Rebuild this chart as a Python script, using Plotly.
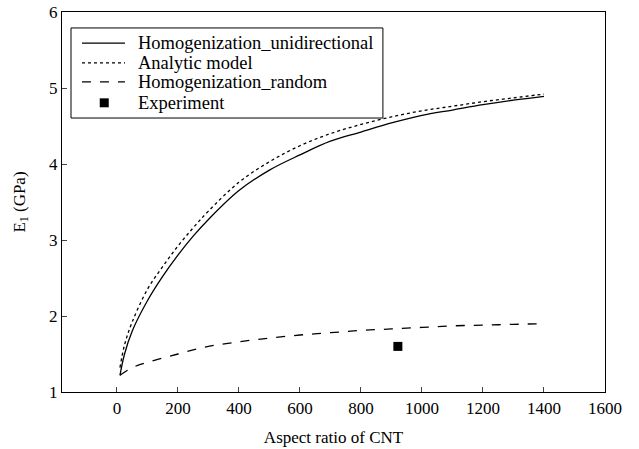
import plotly.graph_objects as go

x_uni = [10, 25, 50, 100, 150, 200, 250, 300, 400, 500, 600, 700, 800, 900, 1000, 1100, 1200, 1300, 1400]
y_uni = [1.22, 1.5, 1.8, 2.2, 2.52, 2.8, 3.05, 3.27, 3.65, 3.92, 4.12, 4.3, 4.42, 4.54, 4.64, 4.71, 4.78, 4.84, 4.89]

x_ana = [10, 25, 50, 100, 150, 200, 250, 300, 400, 500, 600, 700, 800, 900, 1000, 1100, 1200, 1300, 1400]
y_ana = [1.32, 1.62, 1.92, 2.35, 2.65, 2.92, 3.16, 3.38, 3.76, 4.03, 4.24, 4.4, 4.52, 4.62, 4.7, 4.76, 4.82, 4.87, 4.92]

x_rnd = [10, 50, 100, 200, 300, 400, 500, 600, 700, 800, 900, 1000, 1100, 1200, 1300, 1400]
y_rnd = [1.22, 1.32, 1.39, 1.5, 1.6, 1.66, 1.71, 1.75, 1.78, 1.81, 1.83, 1.85, 1.87, 1.88, 1.89, 1.9]

x_exp = [921]
y_exp = [1.6]

x_ticks = [0, 200, 400, 600, 800, 1000, 1200, 1400, 1600]
y_ticks = [1, 2, 3, 4, 5, 6]

series_names = ["Homogenization_unidirectional", "Analytic model", "Homogenization_random", "Experiment"]

FONT = "Liberation Serif"
LW = 1.3

fig = go.Figure()
fig.add_trace(go.Scatter(x=x_uni, y=y_uni, mode="lines", name=series_names[0],
                         line=dict(color="black", width=LW, shape="spline")))
fig.add_trace(go.Scatter(x=x_ana, y=y_ana, mode="lines", name=series_names[1],
                         line=dict(color="black", width=LW, dash="dot", shape="spline")))
fig.add_trace(go.Scatter(x=x_rnd, y=y_rnd, mode="lines", name=series_names[2],
                         line=dict(color="black", width=LW, dash="dash", shape="spline")))
fig.add_trace(go.Scatter(x=x_exp, y=y_exp, mode="markers", name=series_names[3],
                         marker=dict(symbol="square", color="black", size=9)))

# Custom legend (box, samples, texts) in paper coordinates
shapes = [dict(type="rect", xref="paper", yref="paper", x0=0.0166, x1=0.591, y0=0.721, y1=0.958,
               line=dict(color="black", width=1), fillcolor="white", layer="above")]
row_y = [0.918, 0.866, 0.816, 0.761]
dashes = ["solid", "dot", "dash"]
for ry, d in zip(row_y[:3], dashes):
    shapes.append(dict(type="line", xref="paper", yref="paper", x0=0.0368, x1=0.116, y0=ry, y1=ry,
                       line=dict(color="black", width=LW, dash=d), layer="above"))
shapes.append(dict(type="rect", xref="paper", yref="paper", x0=0.0695, x1=0.0861,
                   y0=row_y[3] - 0.0118, y1=row_y[3] + 0.0118,
                   line=dict(color="black", width=0), fillcolor="black", layer="above"))
annotations = [dict(text=n, xref="paper", yref="paper", x=0.136, y=ry, xanchor="left", yanchor="middle",
                    showarrow=False, font=dict(family=FONT, size=18.5, color="black"))
               for n, ry in zip(series_names, row_y)]

fig.update_layout(
    width=639, height=449,
    margin=dict(l=62, r=34, t=12, b=57),
    paper_bgcolor="white", plot_bgcolor="white",
    font=dict(family=FONT, size=17, color="black"),
    showlegend=False,
    shapes=shapes,
    annotations=annotations,
    xaxis=dict(range=[-180, 1600], tickvals=x_ticks, ticks="inside", ticklen=5,
               showline=True, linecolor="black", linewidth=1.2, mirror=True,
               showgrid=False, zeroline=False, automargin=False,
               tickfont=dict(family=FONT, size=17),
               title=dict(text="Aspect ratio of CNT", font=dict(family=FONT, size=17), standoff=14)),
    yaxis=dict(range=[1, 6], tickvals=y_ticks, ticks="inside", ticklen=5,
               showline=True, linecolor="black", linewidth=1.2, mirror=True,
               showgrid=False, zeroline=False, automargin=False,
               tickfont=dict(family=FONT, size=17),
               title=dict(text="E<sub>1</sub> (GPa)", font=dict(family=FONT, size=17), standoff=19)),
)

fig.write_html("out.html", config={"displayModeBar": False},
               post_script="document.body.style.margin='0';")
